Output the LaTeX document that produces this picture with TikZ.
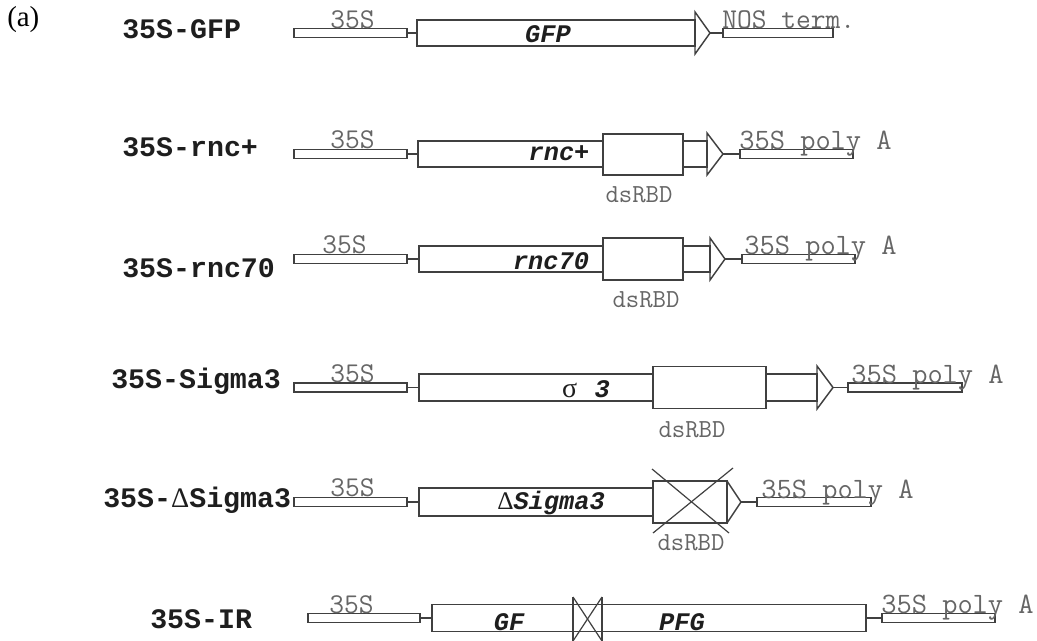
\documentclass[tikz,border=0pt]{standalone}
\usepackage{fontspec}
\setmainfont{Liberation Serif}
\newfontfamily\mono{Liberation Mono}
\usetikzlibrary{fit}
\definecolor{lc}{HTML}{404040}
\definecolor{gt}{HTML}{666666}
\definecolor{tk}{HTML}{1E1E1E}
\begin{document}
\begin{tikzpicture}[x=0.75pt,y=-0.75pt,
  box/.style={draw=lc, line width=1.1pt, inner sep=0pt, outer sep=0pt},
  dbox/.style={box, fill=white},
  tri/.style={draw=lc, line width=1.1pt, line join=miter},
  conn/.style={draw=lc, line width=1.1pt},
  cross/.style={draw=lc, line width=0.9pt},
  cname/.style={font=\mono\bfseries\fontsize{21.2}{24}\selectfont, text=tk, inner sep=0pt, anchor=base west},
  gray/.style={font=\ttfamily\fontsize{21.5}{24}\selectfont, text=gt, inner sep=0pt, anchor=base},
  grayw/.style={gray, anchor=base west},
  polya/.style={gray, anchor=base west, font=\ttfamily\fontsize{22.2}{24}\selectfont},
  dom/.style={font=\ttfamily\fontsize{19.5}{22}\selectfont, text=gt, inner sep=0pt},
  gene/.style={font=\mono\bfseries\itshape\fontsize{19}{22}\selectfont, text=tk, inner sep=0pt},
]
\useasboundingbox (0,0) rectangle (1037,641);

\node[font=\fontsize{21.7}{24}\selectfont, inner sep=0pt, anchor=base west] (lab) at (7,27) {(a)};

% ---------- Row 1: 35S-GFP
\node[cname] (l1) at (122,39) {35S-GFP};
\node[box, fit={(294,28.5) (407,37.5)}] (p1) {};
\node[box, fit={(417,20) (695,46)}] (g1) {};
\node[box, fit={(723,28.5) (833,37.5)}] (n1) {};
\draw[tri] (695,12) -- (710,33) coordinate (t1) -- (695,54) -- cycle;
\draw[conn] (p1.east) -- (p1.east -| g1.west);
\draw[conn] (t1) -- (t1 -| n1.west);
\node[gray] (s1) at (352.5,29) {35S};
\node[grayw] (nt1) at (722,28.5) {NOS term.};
\node[gene] (gn1) at (548,34) {GFP};

% ---------- Row 2: 35S-rnc+
\node[cname] (l2) at (122,157) {35S-rnc+};
\node[box, fit={(294,149.5) (407,158.5)}] (p2) {};
\node[box, fit={(418,141) (707,167)}] (g2) {};
\node[dbox, fit={(603,134) (683,175)}] (d2) {};
\node[box, fit={(740,149.5) (853,158.5)}] (a2) {};
\draw[tri] (707,133) -- (723,154) coordinate (t2) -- (707,175) -- cycle;
\draw[conn] (p2.east) -- (p2.east -| g2.west);
\draw[conn] (t2) -- (t2 -| a2.west);
\node[gray] (s2) at (352.5,149) {35S};
\node[polya] (pa2) at (739,150) {35S poly A};
\node[dom] (r2) at (639,195) {dsRBD};
\node[gene] (gn2) at (559,153) {rnc+};

% ---------- Row 3: 35S-rnc70
\node[cname] (l3) at (122,277) {35S-rnc70};
\node[box, fit={(294,254.5) (407,263.5)}] (p3) {};
\node[box, fit={(419,246) (710,272)}] (g3) {};
\node[dbox, fit={(603,238) (683,280)}] (d3) {};
\node[box, fit={(742,254.5) (855,263.5)}] (a3) {};
\draw[tri] (710,238) -- (725,259) coordinate (t3) -- (710,280) -- cycle;
\draw[conn] (p3.east) -- (p3.east -| g3.west);
\draw[conn] (t3) -- (t3 -| a3.west);
\node[gray] (s3) at (344.5,253.5) {35S};
\node[polya] (pa3) at (744,255) {35S poly A};
\node[dom] (r3) at (646,300) {dsRBD};
\node[gene] (gn3) at (551,261) {rnc70};

% ---------- Row 4: 35S-Sigma3
\node[cname] (l4) at (111,388) {35S-Sigma3};
\node[box, fit={(294,383) (407,392)}] (p4) {};
\node[box, fit={(419,374) (817,401)}] (g4) {};
\node[dbox, fit={(653,366.5) (766,408.5)}] (d4) {};
\node[box, fit={(848,383) (962,392)}] (a4) {};
\draw[tri] (817,366) -- (833,387.5) coordinate (t4) -- (817,409) -- cycle;
\draw[conn] (p4.east) -- (p4.east -| g4.west);
\draw[conn] (t4) -- (t4 -| a4.west);
\node[gray] (s4) at (352.5,382.5) {35S};
\node[polya] (pa4) at (851,383) {35S poly A};
\node[dom] (r4) at (692,430) {dsRBD};
\node[gene] (gn4) at (586,389) {{\fontspec{Liberation Serif}\mdseries\upshape\fontsize{21}{22}\selectfont σ}\hspace{13pt}3};

% ---------- Row 5: 35S-DeltaSigma3
\node[cname] (l5) at (103,507) {35S-{\fontspec{Liberation Serif}\mdseries Δ}Sigma3};
\node[box, fit={(294,497.5) (407,506.5)}] (p5) {};
\node[box, fit={(419,488) (653,516)}] (g5) {};
\node[box, fit={(653,481) (727,523)}] (d5) {};
\node[box, fit={(757,497.5) (871,506.5)}] (a5) {};
\draw[tri] (d5.north east) -- (741,502) coordinate (t5) -- (d5.south east);
\draw[cross] (652,469) -- (729,533);
\draw[cross] (733,468) -- (653,533);
\draw[conn] (p5.east) -- (p5.east -| g5.west);
\draw[conn] (t5) -- (t5 -| a5.west);
\node[gray] (s5) at (352.5,496) {35S};
\node[polya] (pa5) at (761,498) {35S poly A};
\node[dom] (r5) at (691,543) {dsRBD};
\node[gene] (gn5) at (551,503) {{\fontspec{Liberation Serif}\mdseries\upshape Δ}Sigma3};

% ---------- Row 6: 35S-IR
\node[cname] (l6) at (150,628) {35S-IR};
\node[box, fit={(308,613.5) (420,622.5)}] (p6) {};
\node[box, fit={(432,604.5) (866,631.5)}] (g6) {};
\node[box, fit={(882,613.5) (995,622.5)}] (a6) {};
\coordinate (x1) at (573,597);
\coordinate (x2) at (602,597);
\coordinate (x3) at (602,641);
\coordinate (x4) at (573,641);
\draw[conn] (x1) -- (x4);
\draw[conn] (x2) -- (x3);
\draw[cross] (x1) -- (x3);
\draw[cross] (x2) -- (x4);
\draw[conn] (p6.east) -- (p6.east -| g6.west);
\draw[conn] (g6.east) -- (g6.east -| a6.west);
\node[gray] (s6) at (351.5,613) {35S};
\node[polya] (pa6) at (881,613) {35S poly A};
\node[gene] (gn6a) at (509,622) {GF};
\node[gene] (gn6b) at (682,622) {PFG};
\end{tikzpicture}
\end{document}
